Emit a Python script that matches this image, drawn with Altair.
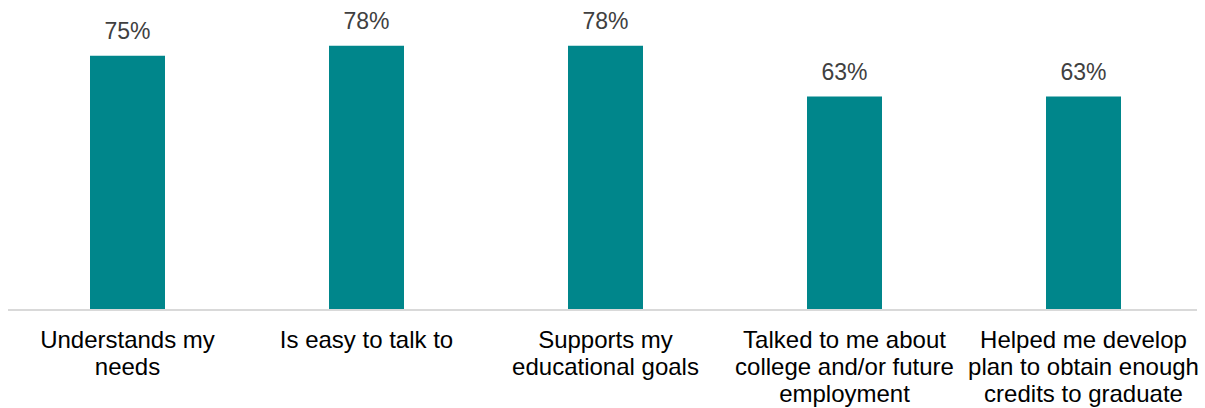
import altair as alt
import pandas as pd

categories = [
    "Understands my\nneeds",
    "Is easy to talk to",
    "Supports my\neducational goals",
    "Talked to me about\ncollege and/or future\nemployment",
    "Helped me develop\nplan to obtain enough\ncredits to graduate",
]
values = [75, 78, 78, 63, 63]
value_labels = ["75%", "78%", "78%", "63%", "63%"]

df = pd.DataFrame({"cat": categories, "val": values, "lab": value_labels})

W = 1195
H = 305

x = alt.X("cat:N", sort=categories, title=None,
          scale=alt.Scale(paddingInner=0.69, paddingOuter=0.345),
          axis=alt.Axis(labelAngle=0, domain=False, ticks=False, tickSize=0,
                        labelExpr="split(datum.label, '\\n')",
                        labelFont="Liberation Sans", labelFontSize=24,
                        labelColor="#000000", labelLineHeight=27,
                        labelPadding=18, labelBaseline="top", labelLimit=400))
y = alt.Y("val:Q", title=None, scale=alt.Scale(domain=[0, 90], nice=False, zero=True),
          axis=None)

bars = alt.Chart(df).mark_bar(color="#00868B", size=75).encode(x=x, y=y)
text = alt.Chart(df).mark_text(font="Liberation Sans", fontSize=23, color="#404040",
                               baseline="alphabetic", dy=-17).encode(x=x, y=y, text="lab:N")
base = alt.Chart(df).mark_rule(color="#D9D9D9", strokeWidth=2).encode(
    x=alt.value(0), x2=alt.value(1189), y=alt.value(H))

chart = (bars + text + base).properties(
    width=W, height=H,
    padding={"left": 8, "top": 5, "right": 2, "bottom": 98},
    autosize=alt.AutoSizeParams(type="none"),
    background="#ffffff",
).configure_view(stroke=None, strokeWidth=0)

chart.save("out.html", embed_options={"renderer": "svg", "actions": False})
